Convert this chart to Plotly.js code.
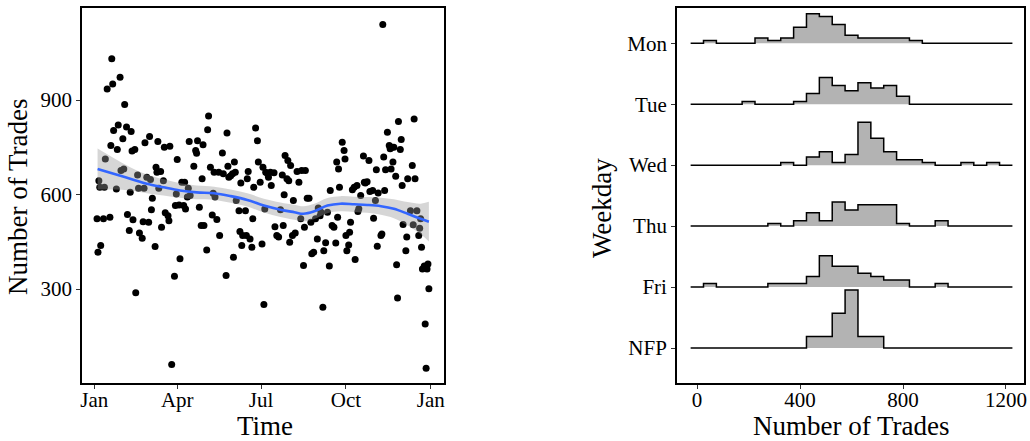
<!DOCTYPE html>
<html>
<head>
<meta charset="utf-8">
<script src="https://cdn.plot.ly/plotly-3.0.1.min.js"></script>
<style>
  html, body { margin: 0; padding: 0; background: #ffffff; }
  #chart { width: 1030px; height: 441px; }
</style>
</head>
<body>
<div id="chart"></div>
<script>
// Daily number of trades: day offset from 1 Jan 2017 and the count for that day
const tradeDay = [
  3, 4, 5, 6, 7, 10, 11, 12, 14, 17, 18, 19, 20, 21, 24, 25, 26, 28, 29, 31,
  32, 33, 35, 36, 38, 39, 40, 41, 42, 44, 45, 47, 48, 49, 52, 53, 54, 55, 57, 59,
  60, 61, 62, 63, 66, 67, 68, 69, 70, 72, 73, 75, 76, 77, 80, 81, 82, 84, 87, 88,
  89, 90, 92, 93, 95, 97, 98, 99, 101, 102, 103, 104, 108, 110, 111, 112, 114, 116, 117, 118,
  119, 122, 123, 124, 126, 128, 129, 130, 131, 133, 135, 136, 139, 140, 143, 144, 145, 146, 148, 150,
  151, 152, 153, 154, 157, 158, 159, 160, 161, 164, 165, 166, 167, 169, 171, 172, 173, 175, 177, 178,
  180, 182, 183, 184, 185, 186, 188, 189, 191, 192, 195, 196, 198, 200, 202, 204, 205, 206, 207, 209,
  210, 211, 212, 213, 215, 216, 218, 220, 222, 224, 225, 227, 228, 229, 231, 233, 235, 236, 238, 240,
  242, 243, 245, 246, 248, 249, 251, 253, 255, 256, 258, 260, 262, 263, 264, 265, 266, 269, 271, 272,
  273, 274, 276, 277, 278, 280, 282, 283, 285, 286, 287, 289, 292, 293, 294, 296, 298, 299, 302, 303,
  305, 306, 307, 308, 311, 312, 313, 314, 315, 316, 318, 320, 321, 322, 323, 324, 325, 327, 328, 329,
  330, 332, 333, 334, 335, 338, 339, 340, 343, 345, 346, 347, 348, 350, 352, 353, 354, 355, 356, 358,
  359, 360, 361, 362, 363
];
const tradeCount = [
  523, 417, 644, 623, 438, 523, 623, 713, 935, 528, 756, 1031, 951, 803, 618, 743, 821, 972, 676, 777,
  681, 886, 814, 537, 486, 607, 800, 738, 520, 743, 288, 662, 620, 478, 461, 514, 620, 764, 655, 512,
  784, 648, 552, 588, 435, 687, 671, 768, 620, 673, 496, 644, 750, 542, 533, 517, 753, 61, 341, 565,
  602, 711, 567, 396, 639, 565, 639, 554, 592, 620, 768, 597, 690, 740, 731, 771, 560, 502, 650, 758,
  502, 424, 806, 849, 687, 535, 604, 671, 592, 521, 671, 470, 732, 666, 343, 795, 690, 655, 660, 666,
  401, 703, 671, 581, 549, 483, 637, 438, 470, 549, 470, 650, 673, 459, 433, 523, 623, 811, 771, 703,
  639, 443, 687, 251, 554, 671, 666, 655, 671, 629, 669, 498, 470, 465, 552, 662, 502, 599, 724, 650,
  708, 644, 449, 692, 470, 581, 478, 673, 639, 523, 676, 375, 496, 676, 588, 588, 512, 412, 417, 523,
  459, 557, 533, 544, 242, 422, 447, 544, 373, 613, 502, 496, 446, 703, 528, 681, 623, 766, 740, 713,
  470, 422, 440, 480, 512, 615, 623, 394, 629, 546, 555, 597, 722, 639, 637, 641, 708, 610, 613, 525,
  581, 679, 436, 605, 470, 475, 1140, 719, 613, 679, 798, 756, 745, 681, 750, 703, 750, 658, 377, 272,
  832, 743, 775, 629, 505, 422, 465, 650, 549, 692, 504, 840, 650, 549, 470, 493, 523, 433, 364, 373,
  189, 49, 364, 380, 301
];

// Loess trend of the daily counts with its confidence half-width
const smoothDay = [3.6, 21, 39, 57, 75, 93, 111, 130, 148, 166, 184, 202, 217, 227, 238, 253, 267, 282, 296, 311, 325, 340, 354, 363];
const smoothFit = [681, 666, 650, 634, 623, 613, 607, 604, 595, 583, 565, 552, 544, 539, 546, 565, 571, 569, 567, 563, 555, 539, 523, 514];
const smoothHalf = [65, 50, 37, 30, 26, 23, 22, 21, 21, 21, 22, 23, 24, 24, 24, 24, 24, 24, 25, 27, 30, 37, 48, 63];

// Trade-count histograms per weekday, bins of width 50 centred on these values
const binCenters = [0, 50, 100, 150, 200, 250, 300, 350, 400, 450, 500, 550, 600, 650, 700, 750, 800, 850, 900, 950, 1000, 1050, 1100, 1150, 1200];
const weekdays = ['Mon', 'Tue', 'Wed', 'Thu', 'Fri', 'NFP'];
const countsMon = [0, 1, 0, 0, 0, 2, 1, 2, 6, 11, 10, 7, 3, 2, 2, 2, 2, 1, 0, 0, 0, 0, 0, 0, 0];
const countsTue = [0, 0, 0, 0, 1, 0, 0, 0, 1, 4, 10, 7, 5, 8, 6, 7, 3, 0, 0, 0, 0, 0, 0, 0, 0];
const countsWed = [0, 0, 0, 0, 0, 0, 0, 1, 0, 3, 5, 1, 4, 16, 10, 5, 2, 2, 1, 0, 0, 1, 0, 1, 0];
const countsThu = [0, 0, 0, 0, 0, 0, 1, 0, 2, 5, 2, 9, 6, 8, 8, 8, 1, 0, 0, 2, 0, 0, 0, 0, 0];
const countsFri = [0, 1, 0, 0, 0, 0, 1, 1, 1, 3, 9, 6, 6, 4, 3, 2, 2, 0, 0, 1, 0, 0, 0, 0, 0];
const countsNFP = [0, 0, 0, 0, 0, 0, 0, 0, 0, 1, 1, 3, 5, 1, 1, 0, 0, 0, 0, 0, 0, 0, 0, 0, 0];

const weekdayCounts = [countsMon, countsTue, countsWed, countsThu, countsFri, countsNFP];

const FONT = '"Liberation Serif", "Times New Roman", serif';
const BIN_WIDTH = 50;
const RIDGE_SCALE = 2.285;   // height (in rows) of a bin holding the whole sample

function dayToDate(d) {
  const t = Date.UTC(2017, 0, 1) + d * 86400000;
  return new Date(t).toISOString().slice(0, 19).replace('T', ' ');
}

const traces = [];

// left panel: points, then the confidence ribbon and trend line on top
traces.push({
  type: 'scatter', mode: 'markers', xaxis: 'x', yaxis: 'y',
  x: tradeDay.map(dayToDate), y: tradeCount,
  marker: { color: '#000000', size: 7 },
  hoverinfo: 'skip', showlegend: false
});
traces.push({
  type: 'scatter', mode: 'lines', xaxis: 'x', yaxis: 'y',
  x: smoothDay.map(dayToDate), y: smoothFit.map((v, i) => v + smoothHalf[i]),
  line: { width: 0, shape: 'spline' }, hoverinfo: 'skip', showlegend: false
});
traces.push({
  type: 'scatter', mode: 'lines', xaxis: 'x', yaxis: 'y',
  x: smoothDay.map(dayToDate), y: smoothFit.map((v, i) => v - smoothHalf[i]),
  line: { width: 0, shape: 'spline' }, fill: 'tonexty', fillcolor: 'rgba(153,153,153,0.4)',
  hoverinfo: 'skip', showlegend: false
});
traces.push({
  type: 'scatter', mode: 'lines', xaxis: 'x', yaxis: 'y',
  x: smoothDay.map(dayToDate), y: smoothFit,
  line: { color: '#3366FF', width: 2.6, shape: 'spline' },
  hoverinfo: 'skip', showlegend: false
});

// right panel: one stepped histogram ridge per weekday, Mon on top
const edges = binCenters.map(c => c - BIN_WIDTH / 2).concat([binCenters[binCenters.length - 1] + BIN_WIDTH / 2]);
weekdays.forEach((name, k) => {
  const base = weekdays.length - k;
  const counts = weekdayCounts[k];
  const total = counts.reduce((a, b) => a + b, 0);
  const heights = counts.map(c => base + c / total * RIDGE_SCALE);
  traces.push({
    type: 'scatter', mode: 'lines', xaxis: 'x2', yaxis: 'y2',
    x: [edges[0], edges[edges.length - 1]], y: [base, base],
    line: { width: 0 }, hoverinfo: 'skip', showlegend: false
  });
  traces.push({
    type: 'scatter', mode: 'lines', xaxis: 'x2', yaxis: 'y2',
    x: edges, y: heights.concat([heights[heights.length - 1]]),
    line: { color: '#000000', width: 1.5, shape: 'hv' },
    fill: 'tonexty', fillcolor: '#B3B3B3',
    name: name, hoverinfo: 'skip', showlegend: false
  });
});

const W = 1030, H = 441;
const px = v => v / W;
const py = v => 1 - v / H;

const axisCommon = {
  showline: true, linecolor: '#000000', linewidth: 1.9, mirror: true,
  ticks: 'outside', ticklen: 4, tickwidth: 1, tickcolor: '#333333',
  showgrid: false, zeroline: false,
  tickfont: { family: FONT, size: 21, color: '#000000' }
};

const titleFont = { family: FONT, size: 27, color: '#000000' };

// x-axis titles sit in a fixed-height box resting on the bottom edge
const bottomTitle = (text, xc) => ({
  text: text, xref: 'paper', yref: 'paper', x: px(xc), y: 0,
  xanchor: 'center', yanchor: 'bottom', height: 26, valign: 'middle',
  showarrow: false, font: titleFont
});

const layout = {
  width: W, height: H,
  margin: { l: 0, r: 0, t: 0, b: 0 },
  paper_bgcolor: '#ffffff', plot_bgcolor: '#ffffff',
  showlegend: false,
  xaxis: Object.assign({}, axisCommon, {
    domain: [px(82), px(444)], anchor: 'y', type: 'date',
    range: [dayToDate(-13.3), dayToDate(379.4)],
    tickvals: ['2017-01-01', '2017-04-01', '2017-07-01', '2017-10-01', '2018-01-01'],
    ticktext: ['Jan', 'Apr', 'Jul', 'Oct', 'Jan'],
    ticklabelstandoff: -7
  }),
  yaxis: Object.assign({}, axisCommon, {
    domain: [py(383), py(8)], anchor: 'x',
    range: [2, 1192], tickvals: [300, 600, 900]
  }),
  xaxis2: Object.assign({}, axisCommon, {
    domain: [px(677), px(1024)], anchor: 'y2',
    range: [-78, 1270], tickvals: [0, 400, 800, 1200],
    ticklabelstandoff: -7
  }),
  yaxis2: Object.assign({}, axisCommon, {
    domain: [py(383), py(8)], anchor: 'x2',
    range: [0.426, 6.578], tickvals: [6, 5, 4, 3, 2, 1], ticktext: weekdays
  }),
  annotations: [
    bottomTitle('Time', 265),
    { text: 'Number of Trades', xref: 'paper', yref: 'paper', x: px(18), y: py(197), xanchor: 'center', yanchor: 'middle', textangle: -90, showarrow: false, font: titleFont },
    bottomTitle('Number of Trades', 851),
    { text: 'Weekday', xref: 'paper', yref: 'paper', x: px(602), y: py(208), xanchor: 'center', yanchor: 'middle', textangle: -90, showarrow: false, font: titleFont }
  ]
};

Plotly.newPlot('chart', traces, layout, { staticPlot: true, displayModeBar: false });
</script>
</body>
</html>
